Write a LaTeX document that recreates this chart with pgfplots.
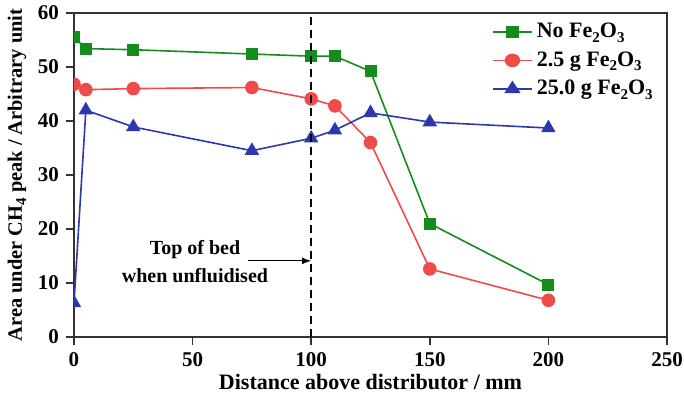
\documentclass[border=0pt]{standalone}
\usepackage{pgfplots}
\pgfplotsset{compat=1.18}
\usepackage{fontspec}
\setmainfont{Liberation Serif}
\definecolor{cgreen}{RGB}{20,140,30}
\definecolor{cred}{RGB}{240,75,75}
\definecolor{cblue}{RGB}{45,55,175}
\newcommand\sub[1]{\raisebox{-0.45ex}{\fontsize{7.5}{8}\selectfont\bfseries #1}}
\begin{document}
\begin{tikzpicture}
\begin{axis}[
  scale only axis,
  width=296.5pt, height=162pt,
  xmin=0, xmax=250, ymin=0, ymax=60,
  xtick={0,50,100,150,200,250},
  ytick={0,10,20,30,40,50,60},
  tick align=outside, xtick pos=bottom, ytick pos=left,
  major tick length=4pt,
  axis line style={line width=0.8pt, black!80},
  every tick/.style={line width=0.8pt, black!80},
  /pgf/number format/assume math mode=true,
  tick label style={font=\fontsize{10.5}{12}\selectfont\bfseries},
  xlabel style={font=\fontsize{11}{12}\selectfont\bfseries, yshift=3pt},
  ylabel style={font=\fontsize{10.2}{12}\selectfont\bfseries, yshift=-1pt},
  xlabel={Distance above distributor / mm},
  ylabel={Area under CH\sub{4} peak / Arbitrary unit},
  clip marker paths=true,
  legend style={at={(0.99,0.995)}, anchor=north east, draw=none, fill=none,
    font=\fontsize{11}{12}\selectfont\bfseries, row sep=1.5pt, inner xsep=2pt, inner ysep=2pt,
    cells={anchor=west}},
  legend image post style={xscale=1.15},
  legend cell align=left,
]
\addplot[cgreen, line width=0.8pt, mark=square*, mark size=2.6pt, mark options={solid}]
  coordinates {(0,55.5) (5,53.4) (25,53.2) (75,52.4) (100,52.0) (110,52.0) (125,49.2) (150,21.0) (200,9.7)};
\addlegendentry{No Fe\sub{2}O\sub{3}}
\addplot[cred, line width=0.8pt, mark=*, mark size=3pt, mark options={solid}]
  coordinates {(0,46.8) (5,45.8) (25,46.0) (75,46.2) (100,44.1) (110,42.8) (125,36.0) (150,12.6) (200,6.8)};
\addlegendentry{2.5 g Fe\sub{2}O\sub{3}}
\addplot[cblue, line width=0.8pt, mark=triangle*, mark size=3.4pt, mark options={solid}]
  coordinates {(0,6.3) (5,42.0) (25,38.9) (75,34.5) (100,36.8) (110,38.3) (125,41.5) (150,39.8) (200,38.7)};
\addlegendentry{25.0 g Fe\sub{2}O\sub{3}}
\draw[black, line width=1pt, dash pattern=on 4pt off 2.5pt] (axis cs:100,0) -- (axis cs:100,60);
\draw[black, line width=0.6pt, -latex] (axis cs:73.4,14.1) -- (axis cs:100,14.1);
\node[font=\fontsize{10}{11}\selectfont\bfseries, align=center] at (axis cs:51,14.0) {Top of bed\\[3pt]when unfluidised};
\end{axis}
\pgfresetboundingbox
\path ([xshift=-37pt,yshift=-30.5pt]current axis.south west) rectangle ([xshift=8.5pt,yshift=6.5pt]current axis.north east);
\end{tikzpicture}
\end{document}
